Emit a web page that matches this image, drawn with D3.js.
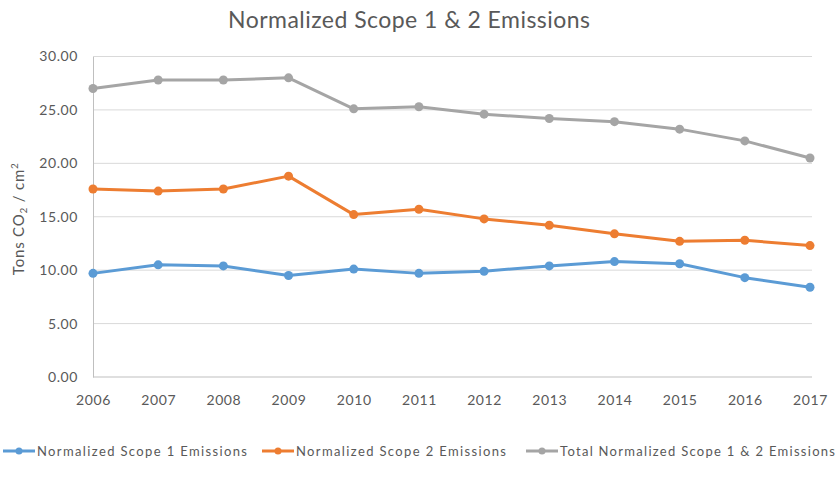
<!DOCTYPE html>
<html>
<head>
<meta charset="utf-8">
<style>
  body { margin: 0; background: #fff; }
  text { font-family: Lato, "Open Sans", sans-serif; fill: #595959; }
</style>
</head>
<body>
<svg id="chart"></svg>
<script src="https://cdn.jsdelivr.net/npm/d3@7"></script>
<script>
// ============ Data ============
var years = ['2006', '2007', '2008', '2009', '2010', '2011', '2012', '2013', '2014', '2015', '2016', '2017'];
var scope1 = [9.7, 10.5, 10.4, 9.5, 10.1, 9.7, 9.9, 10.4, 10.8, 10.6, 9.3, 8.4];
var scope2 = [17.6, 17.4, 17.6, 18.8, 15.2, 15.7, 14.8, 14.2, 13.4, 12.7, 12.8, 12.3];
var total = [27.0, 27.8, 27.8, 28.0, 25.1, 25.3, 24.6, 24.2, 23.9, 23.2, 22.1, 20.5];
var yTicks = [0, 5, 10, 15, 20, 25, 30];
var seriesNames = ['Normalized Scope 1 Emissions', 'Normalized Scope 2 Emissions', 'Total Normalized Scope 1 & 2 Emissions'];

var COLORS = ['#5b9bd5', '#ed7d31', '#a5a5a5'];
var W = 840, H = 491;
var margin = {top: 56.5, right: 30, bottom: 114, left: 93};
var width = 810 - margin.left, height = 377 - margin.top;

var svg = d3.select('#chart').attr('width', W).attr('height', H);
var g = svg.append('g').attr('transform', `translate(${margin.left}, ${margin.top})`);

// ============ Scales ============
var x = d3.scalePoint().domain(years).range([0, width]);
var y = d3.scaleLinear().domain([0, 30]).range([height, 0]);

// Title
svg.append('text')
    .text('Normalized Scope 1 & 2 Emissions')
    .attr('x', 409).attr('y', 28)
    .attr('text-anchor', 'middle')
    .attr('textLength', 362)
    .style('font-size', '23px');

// Gridlines
g.selectAll('.grid').data(yTicks.filter(d => d > 0)).enter()
  .append('line')
    .attr('x1', 0).attr('x2', width + 2)
    .attr('y1', d => y(d)).attr('y2', d => y(d))
    .attr('stroke', '#d9d9d9').attr('stroke-width', 1);

// Y axis
var yAxis = g.append('g')
    .call(d3.axisLeft(y).tickValues(yTicks).tickFormat(d3.format('.2f')).tickSize(0).tickPadding(15));
yAxis.select('.domain').attr('stroke', '#bfbfbf');
yAxis.selectAll('text').style('font-size', '14px').style('letter-spacing', '0.6px').attr('fill', '#595959');

// X axis
var xAxis = g.append('g')
    .attr('transform', `translate(0, ${height})`)
    .call(d3.axisBottom(x).tickSize(0).tickPadding(18));
xAxis.select('.domain').attr('stroke', '#bfbfbf').attr('d', `M0,0H${width + 2}`);
xAxis.selectAll('text').style('font-size', '14px').style('letter-spacing', '0.6px').attr('fill', '#595959');

// Y axis label
var yl = svg.append('text')
    .attr('transform', `translate(24, ${margin.top + height / 2 + 2}) rotate(-90)`)
    .attr('text-anchor', 'middle')
    .style('font-size', '15px')
    .style('letter-spacing', '0.8px');
yl.append('tspan').text('Tons CO');
yl.append('tspan').text('2').style('font-size', '10px').attr('dy', 3);
yl.append('tspan').text(' / cm').attr('dy', -3);
yl.append('tspan').text('2').style('font-size', '10px').attr('dy', -6);

// ============ Lines ============
var allSeries = [scope1, scope2, total];
var line = d3.line().x((d, i) => x(years[i])).y(d => y(d));

allSeries.forEach(function(s, k) {
  g.append('path')
      .datum(s)
      .attr('d', line)
      .attr('fill', 'none')
      .attr('stroke', COLORS[k])
      .attr('stroke-width', 3)
      .attr('stroke-linejoin', 'round');
  g.selectAll('.pt' + k).data(s).enter()
    .append('circle')
      .attr('cx', (d, i) => x(years[i]))
      .attr('cy', d => y(d))
      .attr('r', 4.5)
      .attr('fill', COLORS[k]);
});

// ============ Legend ============
var legendX = [3, 262, 526];
var legendLen = [210, 210, 275];
var legend = svg.append('g').attr('transform', 'translate(0, 451)');
seriesNames.forEach(function(name, k) {
  var lg = legend.append('g').attr('transform', `translate(${legendX[k]}, 0)`);
  lg.append('line').attr('x1', 0).attr('x2', 32).attr('y1', 0).attr('y2', 0)
    .attr('stroke', COLORS[k]).attr('stroke-width', 3);
  lg.append('circle').attr('cx', 16).attr('cy', 0).attr('r', 3.5).attr('fill', COLORS[k]);
  lg.append('text').text(name).attr('x', 34).attr('y', 5)
    .attr('textLength', legendLen[k])
    .style('font-size', '13px');
});
</script>
</body>
</html>
